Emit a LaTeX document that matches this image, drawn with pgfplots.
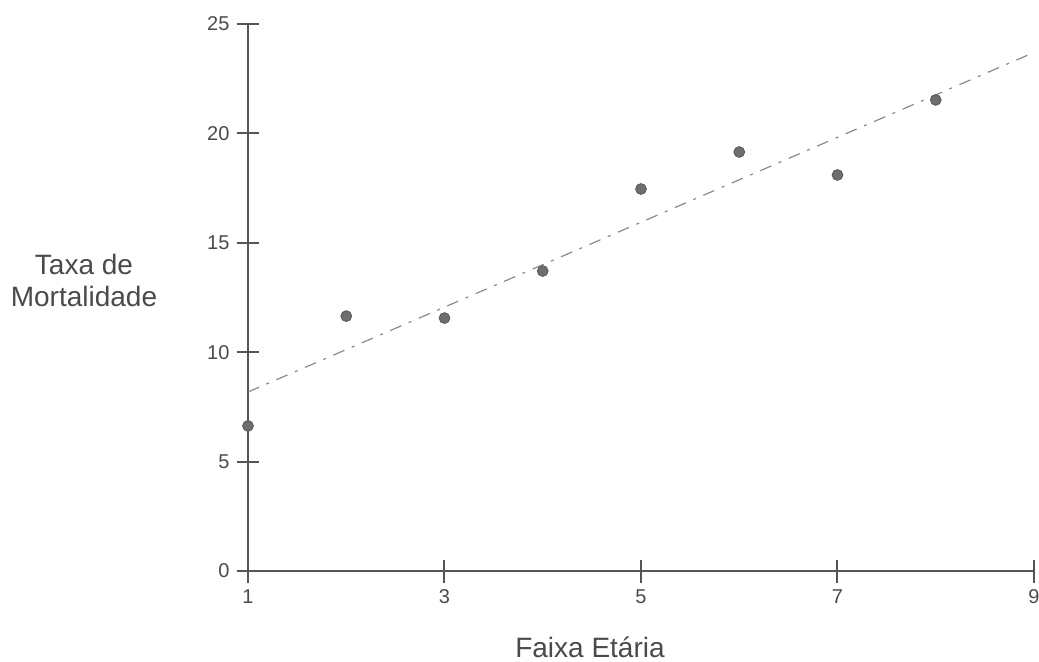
\documentclass[border=0pt]{standalone}
\usepackage{pgfplots}
\pgfplotsset{compat=1.18}
\usepackage{fontspec}
\setmainfont{Liberation Sans}
\definecolor{axgray}{HTML}{555555}
\definecolor{labgray}{HTML}{4A4A4A}
\definecolor{mkfill}{HTML}{6E6E6E}
\definecolor{trend}{HTML}{8A8A8A}
\begin{document}
\begin{tikzpicture}
\useasboundingbox (-124pt,-45pt) rectangle (395.5pt,285.5pt);
\begin{axis}[
  at={(0,0)}, anchor=south west,
  scale only axis,
  width=393pt, height=273.5pt,
  xmin=1, xmax=9, ymin=0, ymax=25,
  axis x line*=bottom, axis y line*=left,
  axis line style={axgray, line width=1pt, -},
  xtick={1,3,5,7,9}, ytick={0,5,10,15,20,25},
  tick align=center,
  major tick length=11.5pt,
  tick style={axgray, line width=1pt},
  /pgf/number format/assume math mode=true,
  ticklabel style={font=\fontsize{10}{12}\selectfont, text=labgray},
  clip=false,
]
\addplot[trend, line width=0.6pt, dash pattern=on 6pt off 4pt on 1.5pt off 4pt]
  coordinates {(1,8.18) (9,23.70)};
\addplot[only marks, mark=*, mark size=2.7pt, mark options={fill=mkfill, draw=axgray, line width=0.4pt}]
  coordinates {
  (1,6.63) (2,11.65) (3,11.56) (4,13.71) (5,17.46) (6,19.15) (7,18.10) (8,21.53)
  };
\end{axis}
\node[font=\fontsize{14}{16}\selectfont, text=labgray, align=center] at (-82pt,145.5pt) {Taxa de\\Mortalidade};
\node[font=\fontsize{14}{16}\selectfont, text=labgray, anchor=base, inner sep=0pt] at (171pt,-43pt) {Faixa Etária};
\end{tikzpicture}
\end{document}
